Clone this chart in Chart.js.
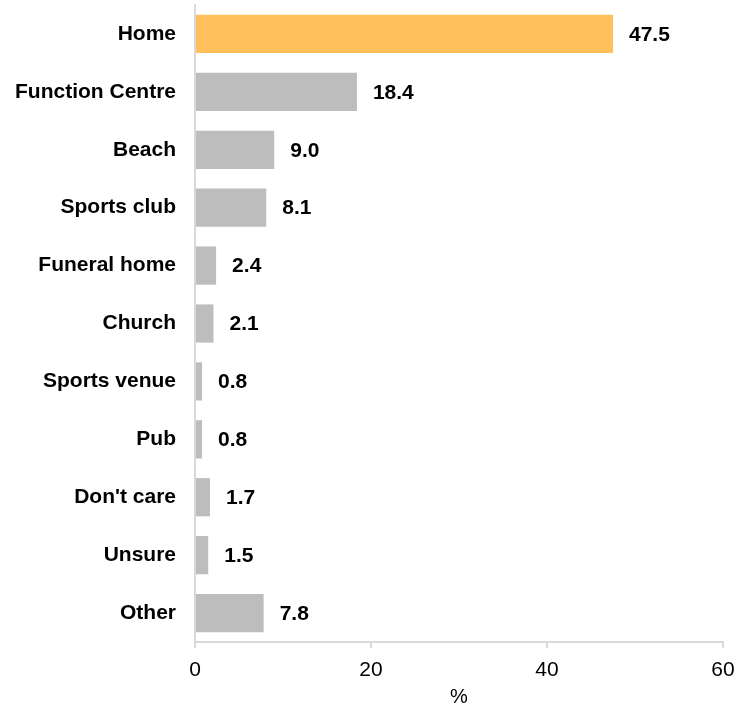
<!DOCTYPE html>
<html>
<head>
<meta charset="utf-8">
<script src="https://cdn.jsdelivr.net/npm/chart.js@4.4.1/dist/chart.umd.min.js"></script>
<style>
  html, body { margin: 0; padding: 0; background: #fff; }
  #wrap { width: 736px; height: 711px; position: relative; }
</style>
</head>
<body>
<div id="wrap"><canvas id="venueChart"></canvas></div>
<script>
// data
const venues = ['Home', 'Function Centre', 'Beach', 'Sports club', 'Funeral home', 'Church',
                'Sports venue', 'Pub', "Don't care", 'Unsure', 'Other'];
const percents = [47.5, 18.4, 9.0, 8.1, 2.4, 2.1, 0.8, 0.8, 1.7, 1.5, 7.8];
const xTicks = [0, 20, 40, 60];

const barColors = venues.map((v, i) => i === 0 ? '#ffbf5a' : '#bdbdbd');
const axisGrey = '#d9d9d9';
const font = "'Liberation Sans', Arial, sans-serif";

// value labels at the end of every bar
const valueLabels = {
    id: 'valueLabels',
    afterDatasetsDraw(chart) {
        const ctx = chart.ctx;
        const meta = chart.getDatasetMeta(0);
        ctx.save();
        ctx.font = 'bold 21px ' + font;
        ctx.fillStyle = '#000';
        ctx.textBaseline = 'middle';
        ctx.textAlign = 'left';
        meta.data.forEach(function(bar, i) {
            ctx.fillText(percents[i].toFixed(1), bar.x + 16, bar.y + 1);
        });
        ctx.restore();
    }
};

const ctx = document.getElementById('venueChart').getContext('2d');
new Chart(ctx, {
    type: 'bar',
    data: {
        labels: venues,
        datasets: [{
            data: percents,
            backgroundColor: barColors,
            borderWidth: 0,
            barPercentage: 0.66,
            categoryPercentage: 1.0
        }]
    },
    options: {
        indexAxis: 'y',
        responsive: true,
        maintainAspectRatio: false,
        animation: false,
        layout: { padding: { top: 5, right: 0, left: 0, bottom: 2 } },
        scales: {
            x: {
                min: 0,
                max: 60,
                afterBuildTicks: function(axis) {
                    axis.ticks = xTicks.map(v => ({ value: v }));
                },
                afterFit: function(axis) {
                    axis.height = 67;
                    axis.paddingLeft = 0;
                    axis.paddingRight = 13;
                },
                grid: {
                    display: true,
                    drawOnChartArea: false,
                    drawTicks: true,
                    tickLength: 6,
                    color: axisGrey,
                    lineWidth: 2
                },
                border: { display: true, color: axisGrey, width: 2 },
                ticks: {
                    color: '#000',
                    padding: 10,
                    maxRotation: 0,
                    font: { family: font, size: 21 }
                },
                title: {
                    display: true,
                    text: '%',
                    color: '#000',
                    padding: { top: 6, bottom: 0 },
                    font: { family: font, size: 20 }
                }
            },
            y: {
                grid: {
                    display: true,
                    drawOnChartArea: false,
                    drawTicks: false,
                    color: 'rgba(0,0,0,0)'
                },
                border: { display: true, color: axisGrey, width: 2 },
                afterFit: function(axis) {
                    axis.width = 195;
                    axis.paddingTop = 0;
                    axis.paddingBottom = 0;
                },
                ticks: {
                    color: '#000',
                    padding: 19,
                    font: { family: font, size: 21, weight: 'bold' }
                }
            }
        },
        plugins: {
            legend: { display: false },
            tooltip: { enabled: false }
        }
    },
    plugins: [valueLabels]
});
</script>
</body>
</html>
